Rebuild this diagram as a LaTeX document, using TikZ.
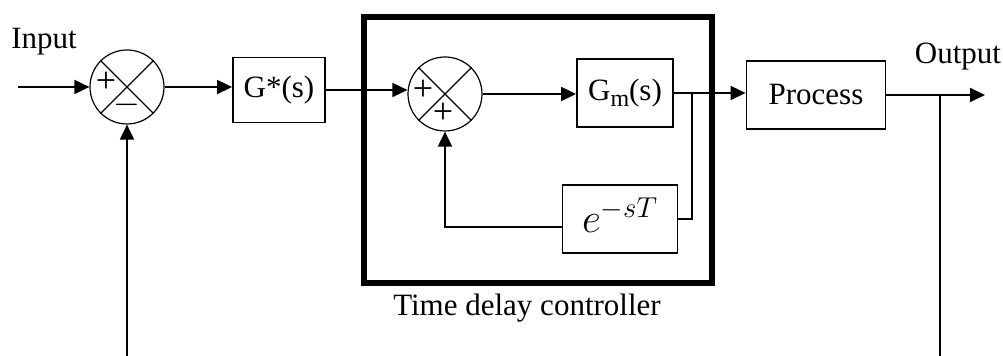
\documentclass[tikz,border=0pt]{standalone}
\usepackage{fontspec}
\setmainfont{Liberation Serif}
\usepackage{tikz}
\usetikzlibrary{arrows.meta, positioning, calc}

\begin{document}
\begin{tikzpicture}[x=0.5pt, y=0.5pt, font=\fontsize{15.5}{18}\selectfont,
  block/.style={draw, line width=0.9pt, inner sep=0pt},
  sumnode/.style={draw, circle, line width=0.6pt, minimum size=37pt, inner sep=0pt},
  sign/.style={font=\fontsize{18}{18}\selectfont, inner sep=0pt},
  arr/.style={line width=0.9pt, -{Triangle[length=7.5pt, width=7pt]}},
  wire/.style={line width=0.9pt}]
  \useasboundingbox (0,0) rectangle (1003,356);

  % controller frame
  \draw[line width=2.6pt] (364,73) rectangle (712,339);
  \node (ctrl) at (527,48) {Time delay controller};

  % labels
  \node (inlbl) at (44,314) {Input};
  \node (outlbl) at (958,299) {Output};

  % summing junctions
  \node[sumnode] (sumA) at (127,269) {};
  \draw[line width=0.6pt] (sumA.north west) -- (sumA.south east)
    (sumA.north east) -- (sumA.south west);
  \node[sign] (sumAp) at ($(sumA.center)+(-21,5)$) {+};
  \node[sign] (sumAm) at ($(sumA.center)+(0,-18)$) {$-$};

  \node[sumnode] (sumB) at (445,262) {};
  \draw[line width=0.6pt] (sumB.north west) -- (sumB.south east)
    (sumB.north east) -- (sumB.south west);
  \node[sign] (sumBp) at ($(sumB.center)+(-22,4)$) {+};
  \node[sign] (sumBq) at ($(sumB.center)+(-2,-19)$) {+};

  % blocks
  \node[block, minimum width=46pt, minimum height=32.5pt] (gstar) at (279,266) {G*(s)};
  \node[block, minimum width=48pt, minimum height=34pt] (gm) at (625,263)
    {G\raisebox{-0.45ex}{\fontsize{12}{12}\selectfont m}(s)};
  \node[block, minimum width=57.5pt, minimum height=34pt] (delay) at (620,137)
    {\raisebox{4pt}{\fontsize{20}{20}\selectfont$e^{-sT}$}};
  \node[block, minimum width=69.5pt, minimum height=34pt] (proc) at (816,261) {Process};

  % end points
  \coordinate (in) at (18,269);
  \coordinate (out) at (985,261);
  \coordinate (tapA) at ($(gm.east)+(18,0)$);
  \coordinate (tapB) at (940,261);

  % connectors
  \draw[arr] (in) -- (sumA.west);
  \draw[arr] (sumA.east) -- (gstar.west |- sumA.east);
  \draw[arr] (gstar.east) -- (gstar.east -| sumB.west);
  \draw[arr] (sumB.east) -- (gm.west |- sumB.east);
  \draw[arr] (gm.east) -- (proc.west |- gm.east);
  \draw[wire] (tapA) |- (delay.east);
  \draw[arr] ([yshift=-4pt]delay.west) -| (sumB.south);
  \draw[arr] (proc.east) -- (out);
  \draw[wire] (tapB) -- (tapB |- 0,0);
  \draw[arr] (sumA.south |- 0,0) -- (sumA.south);
\end{tikzpicture}
\end{document}
